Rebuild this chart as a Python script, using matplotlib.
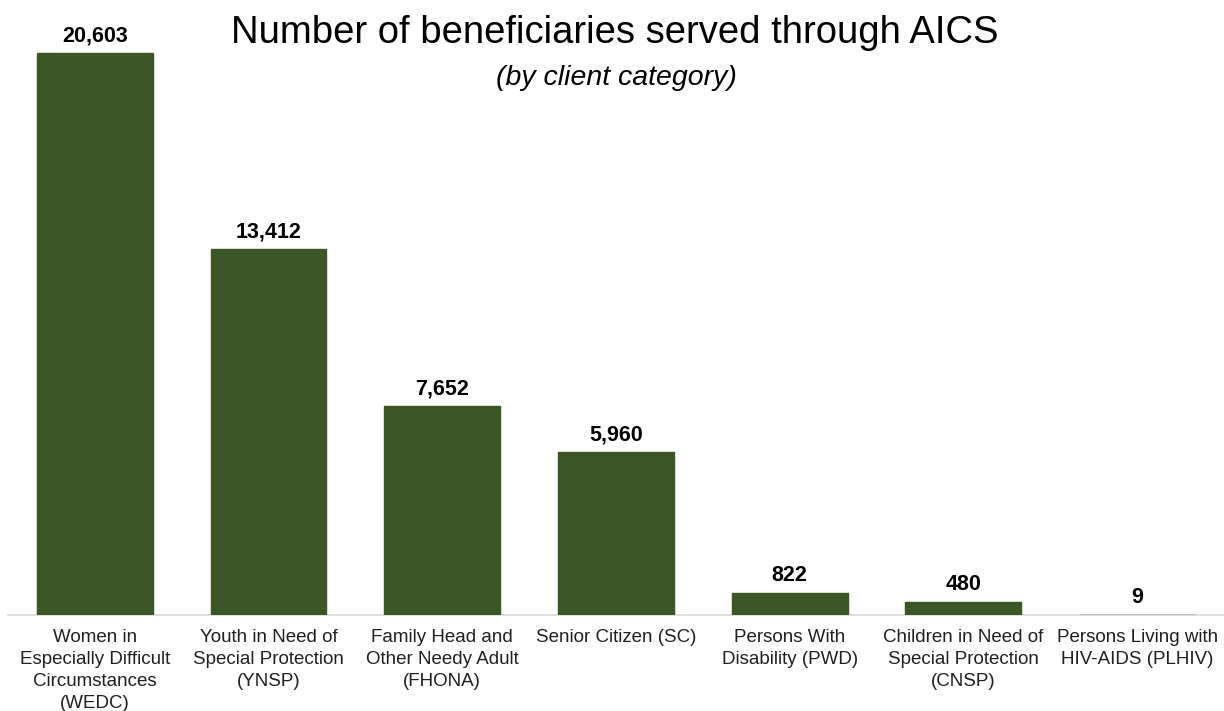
import matplotlib.pyplot as plt
import numpy as np

plt.rcParams['font.family'] = ['Liberation Sans', 'DejaVu Sans']

categories = [
    'Women in\nEspecially Difficult\nCircumstances\n(WEDC)',
    'Youth in Need of\nSpecial Protection\n(YNSP)',
    'Family Head and\nOther Needy Adult\n(FHONA)',
    'Senior Citizen (SC)',
    'Persons With\nDisability (PWD)',
    'Children in Need of\nSpecial Protection\n(CNSP)',
    'Persons Living with\nHIV-AIDS (PLHIV)',
]
beneficiaries = [20603, 13412, 7652, 5960, 822, 480, 9]

bar_color = '#3C5626'

fig = plt.figure(figsize=(12.24, 7.11), dpi=100)
ax = fig.add_axes([0.0065, 0.135, 0.9935, 0.865])

x = np.arange(len(categories))
# thin edge so the tiny PLHIV bar still shows up as a line
bars = ax.bar(x, beneficiaries, width=0.667, color=bar_color,
              edgecolor=bar_color, linewidth=1.0, zorder=3)

for b, v in zip(bars, beneficiaries):
    ax.annotate(f'{v:,}', (b.get_x() + b.get_width() / 2, b.get_height()),
                xytext=(0, 8.5), textcoords='offset points',
                ha='center', va='baseline', fontsize=15.5, fontweight='bold')

ax.set_xlim(-0.5, len(categories) - 0.5)
ax.set_ylim(0, 22550)
ax.set_xticks(x)
ax.set_xticklabels(categories, fontsize=13.5, linespacing=1.38, color='#202020')
ax.tick_params(axis='x', length=0, pad=10)
ax.set_yticks([])

for side in ['top', 'right', 'left']:
    ax.spines[side].set_visible(False)
ax.spines['bottom'].set_color('#D9D9D9')
ax.spines['bottom'].set_linewidth(1.2)
ax.spines['bottom'].set_zorder(1)

fig.text(0.502, 0.9395, 'Number of beneficiaries served through AICS',
         ha='center', va='baseline', fontsize=27.5)
fig.text(0.504, 0.881, '(by client category)', ha='center', va='baseline',
         fontsize=20.5, style='italic')

fig.savefig('out.png', dpi=100)
